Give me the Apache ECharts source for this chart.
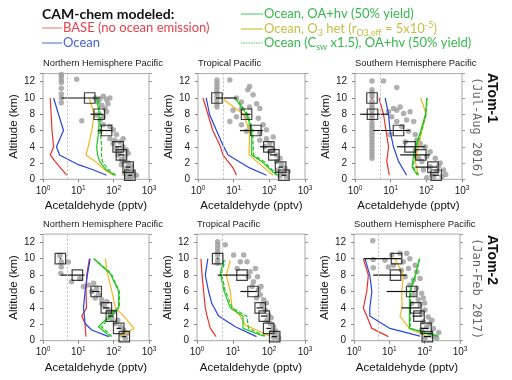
<!DOCTYPE html>
<html><head><meta charset="utf-8">
<script src="https://cdn.jsdelivr.net/npm/echarts@6/dist/echarts.min.js"></script>
<style>html,body{margin:0;padding:0;background:#fff}#c{width:512px;height:380px}</style>
</head><body><div id="c"></div>
<script>
// ---------- data ----------
const titles = ['Northern Hemisphere Pacific','Tropical Pacific','Southern Hemisphere Pacific',
                'Northern Hemisphere Pacific','Tropical Pacific','Southern Hemisphere Pacific'];
const campaigns = ['ATom-1','ATom-2'];
const periods = ['(Jul-Aug 2016)','(Jan-Feb 2017)'];
const yTicks = [0,2,4,6,8,10,12];
const detectionLimit = 5;

// observations [pptv, km]
const obs_p1 = [[3.3,12.9],[3.3,12.6],[3.3,12.2],[3.3,11.9],[3.3,11.2],[3.3,10.5],[3.3,10.0],[3.3,9.4],[9.0,12.3],
 [30,10.0],[41,9.9],[51,10.2],[63,9.8],[78,10.0],[36,9.5],[46,9.1],[57,8.7],[69,9.3],
 [12.5,7.2],[33,7.9],[51,7.7],[41,7.3],[63,8.3],[51,6.7],[78,6.5],[41,5.9],[97,6.1],[120,5.5],
 [78,5.0],[108,4.8],[150,4.6],[185,5.0],[97,4.4],[120,3.8],[185,4.0],[230,3.6],[150,3.4],
 [134,3.0],[205,2.8],[257,3.2],[166,2.4],[185,2.2],[257,2.0],[316,1.6],[230,1.4],[166,1.8],
 [257,0.9],[355,0.7],[205,0.7],[316,0.3],[437,0.5],[287,0.1],[230,0.2]];
const obs_p2 = [[3.4,12.2],[3.4,11.8],[3.4,11.4],[3.4,11.0],[3.4,10.6],[3.4,10.2],[3.4,9.75],[3.4,9.3],[3.4,8.9],
 [7.8,12.2],[28,11.4],[25,11.0],[12,10],[16.5,9.5],[35,10.4],[44,9.3],
 [9.6,8.5],[16.5,8.7],[28,8.9],[54,8.7],[12,7.7],[23,7.7],[7.8,7.1],[49,7.5],
 [16.5,6.7],[28,6.5],[67,6.7],[23,5.9],[54,5.7],[83,6.1],[54,4.8],[83,5.0],[103,4.4],[128,5.2],[75,4.0],
 [103,3.4],[160,3.0],[198,2.6],[128,3.6],[160,2.2],[220,1.8],[275,1.35],[178,1.15],
 [245,0.75],[340,0.95],[305,0.3],[198,0.45]];
const obs_p3 = [[3.0,12.1],[3.0,11.0],[3.0,10.6],[3.0,10.2],[3.0,9.6],[3.0,9.2],[3.0,8.8],[3.0,8.4],[3.0,7.9],[3.0,7.5],
 [3.0,7.0],[3.0,6.6],[3.0,6.2],[3.0,5.8],[3.0,5.4],[3.0,5.0],[3.0,4.6],[3.0,4.2],[3.0,3.8],[3.0,3.4],[3.0,3.0],[3.0,2.6],
 [6.3,12.1],[14.8,11.3],[8.7,8.3],[12,8.7],[14.8,8.5],[18.5,8.9],[10.7,7.7],[23,8.1],[35,8.3],[28,7.3],[14.8,7.1],[44,7.1],
 [20.5,6.5],[32,5.9],[49,5.5],[9.6,5.5],[54,4.8],[25.5,4.6],[67,4.4],[93,4.0],[49,3.6],[128,3.4],[103,2.8],[178,2.6],
 [75,2.2],[245,2.0],[128,1.55],[83,1.15],[198,0.95],[305,1.15],[144,0.55],[275,0.35],[103,0.2],[220,1.6],[160,0.3],[350,0.6],[60,2.6]];
const obs_p4 = [[3.0,10.4],[3.3,9.6],[5.2,9.6],[3.3,9.0],[3.2,8.2],[6.4,7.2],[11,7.6],[13.9,6.6],[19,6.8],[24,6.0],[33,6.4],
 [37,5.6],[30,5.2],[46,5.0],[64,4.75],[46,4.55],[72,3.75],[100,3.5],[89,2.7],[112,2.1],[155,1.7],[194,1.3],[173,0.7],
 [240,0.9],[215,0.3],[27,7.0],[55,4.2],[80,3.2],[130,2.5],[200,1.0]];
const obs_p5 = [[3.75,12.07],[3.75,11.67],[3.75,11.26],[3.75,10.85],[3.75,10.45],[3.75,9.84],[3.75,9.43],
 [6.1,11.7],[10.4,10.45],[19.8,10.45],[16,9.63],[24.5,9.63],[13,8.8],[30,8.4],[42,8.8],[27,7.8],[37,7.2],[34,6.6],
 [51,6.2],[57,5.6],[45,5.2],[71,5.0],[64,4.35],[79,3.75],[98,3.1],[88,2.5],[109,2.1],[134,1.7],[121,1.1],[166,0.8],
 [185,0.3],[134,0.4],[48,7.8],[60,6.6],[85,4.6],[115,2.8],[150,1.2]];
const obs_p6 = [[3.4,12.2],[3.5,9.9],[3.5,8.9],[7.5,9.8],[11.6,10.45],[20,10.65],[31,10.65],[25,9.63],[38,10],[9.4,9.0],
 [13,9.2],[22,8.6],[35,8.8],[54,9.2],[28,7.8],[48,7.4],[74,7.6],[38,6.8],[59,6.4],[82,5.8],[48,5.6],[66,5.0],[91,5.2],
 [43,4.55],[74,4.35],[102,3.75],[82,3.33],[126,2.9],[91,2.3],[141,2.1],[115,1.7],[177,1.5],[82,1.3],[141,0.8],
 [177,0.5],[102,0.3],[219,0.3],[60,8.4],[100,4.6],[160,2.5],[250,1.0]];

// binned medians [pptv, km, low, high]
const med_p1 = [[21,10,3.3,41],[39,8,22,51],[63,6,36,87],[134,4,110,165],[166,3,135,200],[257,1.5,220,300],[287,0.5,250,330]];
const med_p2 = [[3.4,10,3.2,12],[23,8,16,30],[42,6,15,67],[97,4,55,130],[134,3,105,165],[207,1.5,180,240],[256,0.5,220,300]];
const med_p3 = [[3.0,10,2.9,3.1],[3.1,8,1.4,8.7],[16.6,6,3.3,35],[35,4,15,93],[70,3,18.5,128],[153,1.5,49,198],[189,0.5,150,230]];
const med_p4 = [[3.1,10,3.0,3.3],[9.4,8,3.2,15],[32,6,24,40],[62,4,50,75],[86,3,70,100],[139,1.5,120,160],[200,0.5,175,225]];
const med_p5 = [[3.75,10,3.6,3.9],[17.8,8,3.75,27],[36,6,16,46],[57,4,45,70],[74,3,60,88],[98,1.5,85,115],[144,0.5,120,165]];
const med_p6 = [[16,10,1.9,22],[15,8,3.5,31],[43,6,8.4,59],[56,4,22,74],[69,3,45,85],[109,1.5,80,130],[119,0.5,95,150]];

// model profiles [pptv, km]
const base_p1 = [[4.7,0.5],[3.0,1.5],[2.2,2.2],[1.6,3],[2.0,4],[1.8,6],[1.7,8],[1.6,10]];
const ocean_p1 = [[63,0.5],[25,1.2],[10,1.8],[2.95,3],[2.4,4],[3.8,6],[2.75,8],[2.0,10]];
const oahv_p1 = [[108,0.5],[60,1.2],[40,2.2],[35,3],[33,4],[38,6],[39,8],[33,10]];
const o3het_p1 = [[97,0.5],[55,1.2],[30,2.2],[16.5,3],[19,4],[24,6],[28,8],[20.5,10]];
const csw_p1 = [[115,0.5],[70,1.2],[48,2.2],[45,3],[46,4],[42,6],[42,8],[36,10]];

const base_p2 = [[12,0.5],[9.6,1.4],[5.0,3],[4.1,4.2],[2.6,6],[1.9,8],[1.38,10]];
const ocean_p2 = [[83,0.5],[28,1.4],[7.0,3],[5.0,4.2],[3.3,6],[2.1,8],[1.7,10]];
const oahv_p2 = [[160,0.5],[60,2.2],[32,3],[32,6],[23,8],[10.7,10]];
const o3het_p2 = [[128,0.5],[44,2.2],[27,3],[28,6],[18.5,8],[4.6,10]];
const csw_p2 = [[170,0.5],[70,2.2],[36,3],[34,6],[25,8],[11.5,10]];

const base_p3 = [[9.2,0.5],[7.8,2.2],[8.7,4],[7.4,6],[6.3,8],[4.7,10]];
const ocean_p3 = [[28,0.5],[16.6,2.2],[12,4],[9.6,6],[8.7,8],[7,10]];
const oahv_p3 = [[56,0.5],[40,1.5],[44,3],[50,4],[70,6],[95,8],[103,10]];
const o3het_p3 = [[60,0.5],[49,2.2],[60,4],[75,6],[99,8],[70,10]];
const csw_p3 = [[60,0.5],[43,1.5],[47,3],[53,4],[74,6],[98,8],[106,10]];

const base_p4 = [[16.5,0.5],[15.5,2.1],[12.5,3],[17,4],[16.5,6],[17.3,8],[20.5,10]];
const ocean_p4 = [[72,0.5],[24,1.3],[15.5,2.1],[14,4],[15.5,6],[18,8],[21.6,10]];
const oahv_p4 = [[80,0.5],[37,1.7],[139,4.1],[139,6],[80,8.2],[27,10]];
const o3het_p4 = [[155,0.5],[372,1.5],[193,3],[112,4],[89,6],[64,8.6],[58,10]];
const csw_p4 = [[90,0.5],[45,1.7],[145,4.1],[145,6],[85,8.2],[28,10]];

const base_p5 = [[3.4,0.5],[2.35,1.5],[1.9,3],[1.7,4],[1.53,6],[1.38,8],[1.29,10]];
const ocean_p5 = [[45,0.5],[11.6,1.7],[4.0,3],[2.6,4.5],[2.1,6],[1.7,8],[2.0,10]];
const oahv_p5 = [[71,0.55],[19,1.5],[19,3],[8.4,4],[5.5,6.2],[4.45,8.2],[5.5,9.8]];
const o3het_p5 = [[109,0.55],[22,1.9],[16,3],[9.4,4.1],[8.4,6],[6.5,8],[8.4,9.8]];
const csw_p5 = [[80,0.55],[27,1.5],[24,3],[9.5,4],[6,6.2],[4.8,8.2],[6,9.8]];

const base_p6 = [[9.4,0.5],[3.2,1.5],[2.3,3],[1.84,4],[2.3,6],[2.55,8],[1.84,10]];
const ocean_p6 = [[74,0.55],[10.4,1.5],[2.8,3],[2.8,4],[3.2,6],[2.8,8],[2.05,10]];
const oahv_p6 = [[245,0.55],[37,1.5],[37,4],[38,6],[54,8],[71,10]];
const o3het_p6 = [[114,0.55],[37,1.5],[20,3],[23,4],[22.4,6],[25,8],[14.5,10]];
const csw_p6 = [[240,0.55],[39,1.5],[39,4],[40,6],[56,8],[73,10]];

// ---------- layout / style ----------
const FONT = 'Liberation Sans, Arial, sans-serif';
const LFONT = 'Lato, Open Sans, sans-serif';
const grids = [
  {left:43, top:73.6, width:106, height:105.7},
  {left:198, top:73.6, width:107, height:105.7},
  {left:355, top:73.6, width:107, height:105.7},
  {left:43, top:234.1, width:106, height:106.6},
  {left:197, top:234.1, width:108, height:106.6},
  {left:354, top:234.1, width:106, height:106.6}
];
const panels = [
  [obs_p1, med_p1, base_p1, ocean_p1, o3het_p1, oahv_p1, csw_p1],
  [obs_p2, med_p2, base_p2, ocean_p2, o3het_p2, oahv_p2, csw_p2],
  [obs_p3, med_p3, base_p3, ocean_p3, o3het_p3, oahv_p3, csw_p3],
  [obs_p4, med_p4, base_p4, ocean_p4, o3het_p4, oahv_p4, csw_p4],
  [obs_p5, med_p5, base_p5, ocean_p5, o3het_p5, oahv_p5, csw_p5],
  [obs_p6, med_p6, base_p6, ocean_p6, o3het_p6, oahv_p6, csw_p6]
];
const lineStyles = [
  {color:'#e8322c', width:1.2},
  {color:'#2846e0', width:1.2},
  {color:'#f2b623', width:1.2},
  {color:'#1fc51f', width:1.2},
  {color:'#1fc51f', width:1.2, type:[4,2]}
];

const xAxes = [], yAxes = [], series = [], titleArr = [];
grids.forEach((g, i) => {
  g.show = true; g.borderColor = '#a8a8a8'; g.borderWidth = 1; g.backgroundColor = 'transparent';
  xAxes.push({
    type:'log', logBase:10, min:1, max:1000, gridIndex:i,
    name:'Acetaldehyde (pptv)', nameLocation:'middle', nameGap:21,
    nameTextStyle:{fontFamily:FONT, fontSize:11.5, color:'#111'},
    axisLine:{show:false}, splitLine:{show:false}, minorTick:{show:false},
    axisTick:{show:true, inside:false, length:3, lineStyle:{color:'#888'}},
    axisLabel:{margin:5, fontFamily:FONT, color:'#222',
      formatter: v => '{b|10}{p|' + Math.round(Math.log10(v)) + '}',
      rich:{b:{fontSize:10, fontFamily:FONT, color:'#222', lineHeight:13},
            p:{fontSize:6.5, fontFamily:FONT, color:'#222', lineHeight:8, verticalAlign:'top'}}}
  });
  yAxes.push({
    type:'value', min:0, max:13, interval:2, gridIndex:i,
    name:'Altitude (km)', nameLocation:'middle', nameGap:21,
    nameTextStyle:{fontFamily:FONT, fontSize:11.5, color:'#111'},
    axisLine:{show:false}, splitLine:{show:false},
    axisTick:{show:true, length:3, lineStyle:{color:'#888'}},
    axisLabel:{margin:8, fontSize:10, fontFamily:FONT, color:'#222',
      formatter: v => yTicks.indexOf(v) >= 0 ? String(v) : ''}
  });
  yAxes.push({
    type:'value', min:0, max:13, interval:2, gridIndex:i, position:'right',
    axisLine:{show:false}, splitLine:{show:false}, axisLabel:{show:false},
    axisTick:{show:true, length:3, lineStyle:{color:'#999'}}
  });
  titleArr.push({text:titles[i], left:g.left, top: i < 3 ? 59 : 220, padding:0,
    textStyle:{fontFamily:FONT, fontSize:9.4, fontWeight:'normal', color:'#222'}});

  const P = panels[i];
  series.push({
    type:'scatter', xAxisIndex:i, yAxisIndex:2*i, data:P[0], symbolSize:5.5,
    itemStyle:{color:'#9c9c9c'}, z:1, silent:true,
    markLine:{silent:true, symbol:['none','none'], label:{show:false},
      lineStyle:{color:'#bdbdbd', type:[2,2], width:1}, data:[{xAxis:detectionLimit}]}
  });
  for (let k = 0; k < 5; k++) {
    series.push({type:'line', xAxisIndex:i, yAxisIndex:2*i, data:P[2+k], showSymbol:false,
      lineStyle:lineStyles[k], z:2 + k*0.1, silent:true, animation:false});
  }
  series.push({
    type:'custom', xAxisIndex:i, yAxisIndex:2*i, z:4,
    data:P[1].map(d => [d[2], d[3], d[1]]),
    encode:{x:[0,1], y:2},
    renderItem:(params, api) => {
      const a = api.coord([api.value(0), api.value(2)]);
      const b = api.coord([api.value(1), api.value(2)]);
      return {type:'line', shape:{x1:a[0], y1:a[1], x2:b[0], y2:b[1]}, style:{stroke:'#111', lineWidth:1.2}};
    }
  });
  series.push({
    type:'scatter', xAxisIndex:i, yAxisIndex:2*i, z:5, symbol:'rect', symbolSize:10.5,
    data:P[1].map(d => [d[0], d[1]]),
    itemStyle:{color:'rgba(255,255,255,0)', borderColor:'#111', borderWidth:1.2}
  });
});

// legend & side labels drawn as graphic text
const graphic = [
  {type:'text', x:42, y:14, style:{text:'CAM-chem modeled:', fontFamily:LFONT, fontSize:14, fontWeight:'bold', fill:'#111', verticalAlign:'middle'}},
  {type:'line', shape:{x1:42, y1:28, x2:62, y2:28}, style:{stroke:'#f29090', lineWidth:1.3}},
  {type:'text', x:63, y:28, style:{text:'BASE (no ocean emission)', fontFamily:LFONT, fontSize:13, fill:'#e8414d', verticalAlign:'middle'}},
  {type:'line', shape:{x1:42, y1:43, x2:62, y2:43}, style:{stroke:'#7486e2', lineWidth:1.3}},
  {type:'text', x:63, y:43, style:{text:'Ocean', fontFamily:LFONT, fontSize:13, fill:'#4763d8', verticalAlign:'middle'}},
  {type:'line', shape:{x1:241, y1:14, x2:263, y2:14}, style:{stroke:'#6cd68a', lineWidth:1.3}},
  {type:'text', x:264, y:14, style:{text:'Ocean, OA+hv (50% yield)', fontFamily:LFONT, fontSize:13, fill:'#36b84e', verticalAlign:'middle'}},
  {type:'line', shape:{x1:241, y1:29, x2:263, y2:29}, style:{stroke:'#cfc64a', lineWidth:1.3}},
  {type:'text', x:264, y:29, style:{
    text:'{a|Ocean, O}{s|3}{a| het (r}{s|O3,eff}{a| = 5x10}{p|-5}{a|)}', verticalAlign:'middle',
    rich:{a:{fontFamily:LFONT, fontSize:13, fill:'#c5bf45', lineHeight:17},
          s:{fontFamily:LFONT, fontSize:9, fill:'#c5bf45', lineHeight:12, verticalAlign:'bottom'},
          p:{fontFamily:LFONT, fontSize:9, fill:'#c5bf45', lineHeight:11, verticalAlign:'top'}}}},
  {type:'line', shape:{x1:241, y1:43, x2:263, y2:43}, style:{stroke:'#8cd89e', lineWidth:1.3, lineDash:[1.5,1]}},
  {type:'text', x:264, y:43, style:{
    text:'{a|Ocean (C}{s|sw}{a| x1.5), OA+hv (50% yield)}', verticalAlign:'middle',
    rich:{a:{fontFamily:LFONT, fontSize:13, fill:'#36b84e', lineHeight:17},
          s:{fontFamily:LFONT, fontSize:9, fill:'#36b84e', lineHeight:12, verticalAlign:'bottom'}}}},
  {type:'text', x:492, y:73, rotation:-Math.PI/2, style:{text:campaigns[0], fontFamily:FONT, fontSize:14, fontWeight:'bold', fill:'#111', verticalAlign:'middle', align:'left'}},
  {type:'text', x:476, y:77, rotation:-Math.PI/2, style:{text:periods[0], fontFamily:'DejaVu Sans Mono, monospace', fontSize:12, fill:'#666', verticalAlign:'middle', align:'left'}},
  {type:'text', x:492, y:235, rotation:-Math.PI/2, style:{text:campaigns[1], fontFamily:FONT, fontSize:14, fontWeight:'bold', fill:'#111', verticalAlign:'middle', align:'left'}},
  {type:'text', x:476, y:238, rotation:-Math.PI/2, style:{text:periods[1], fontFamily:'DejaVu Sans Mono, monospace', fontSize:12, fill:'#666', verticalAlign:'middle', align:'left'}}
];

const chart = echarts.init(document.getElementById('c'), null, {renderer:'canvas'});
chart.setOption({
  animation:false, backgroundColor:'#fff',
  title:titleArr, grid:grids, xAxis:xAxes, yAxis:yAxes, series:series, graphic:graphic
});
</script></body></html>
